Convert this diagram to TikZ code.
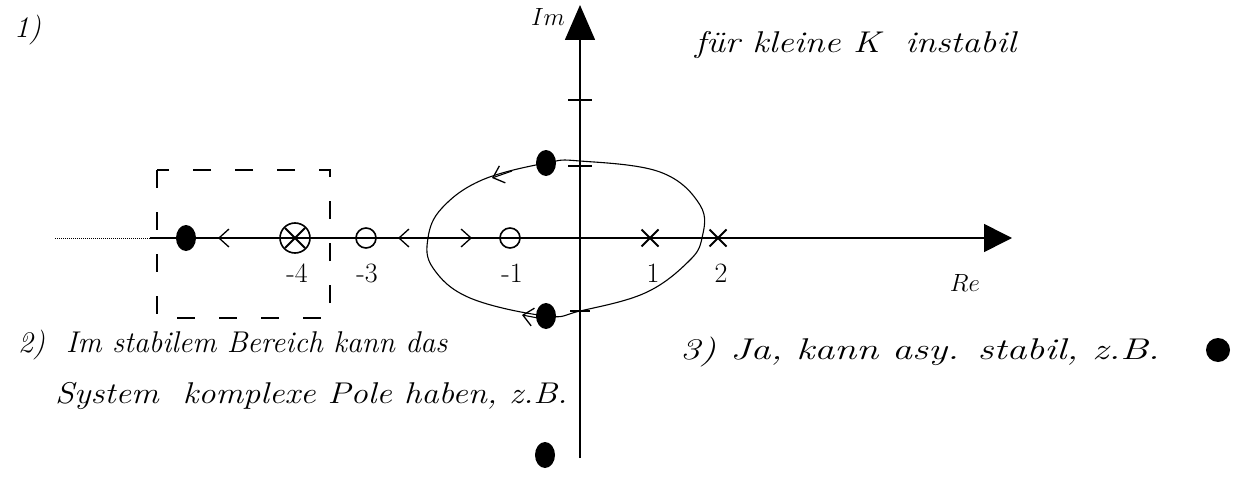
\documentclass[tikz,border=0pt]{standalone}
\usepackage{fontspec}
\usetikzlibrary{arrows.meta,shapes.misc,shapes.geometric}
\begin{document}
\begin{tikzpicture}[x=1pt,y=-1pt,
  axis/.style={line width=1.6pt},
  locus/.style={line width=1.1pt},
  rlocus/.style={line width=2.2pt},
  tip/.style={-{Straight Barb[length=10pt,width=18pt,line width=1.3pt]}},
  zero/.style={circle,draw,line width=1.6pt,minimum size=20pt,inner sep=0pt},
  pole/.style={cross out,draw,line width=2pt,minimum size=15pt,inner sep=0pt},
  dot/.style={ellipse,fill,minimum width=20pt,minimum height=26pt,inner sep=0pt},
  lab/.style={font=\fontsize{28}{32}\selectfont},
  hand/.style={font={\fontsize{30}{36}\selectfont\itshape},anchor=west,inner sep=0pt}
]
\useasboundingbox (0,0) rectangle (1235,495);
% axes
\coordinate (xl) at (55,238);
\coordinate (xs) at (150,238);
\coordinate (xr) at (1012,238);
\coordinate (yb) at (580,458);
\coordinate (yt) at (580,5);
\draw[densely dotted,line width=1pt] (xl) -- (xs);
\draw[axis,-{Triangle[length=28pt,width=28pt]}] (xs) -- (xr);
\draw[axis,-{Triangle[length=35pt,width=30pt]}] (yb) -- (yt);
\draw[line width=1.2pt] (568,100) -- (592,100);
\draw[line width=1.2pt] (568,166) -- (592,166);
\draw[line width=1.2pt] (570,311) -- (590,311);
% dashed box
\draw[line width=1.3pt,dash pattern=on 18pt off 24pt] (157,170) rectangle (330,318);
% poles and zeros
\node[zero] (z1) at (510,238) {};
\node[zero] (z3) at (366,238) {};
\node[zero,minimum size=30pt] (p4) at (295,238) {};
\node[pole,minimum size=18pt] (p4x) at (295,238) {};
\node[pole] (p1) at (650,238) {};
\node[pole] (p2) at (718,238) {};
\node[dot] (dl) at (186,238) {};
\node[dot] (dt) at (546,163) {};
\node[dot] (db) at (546,316) {};
\node[dot] (dz) at (545,455) {};
\node[dot,minimum width=24pt,minimum height=24pt] (dr) at (1218,350) {};
\coordinate (brk) at (428,238);
\coordinate (bra) at (702,238);
\coordinate (a4) at (218,238);
\coordinate (a3) at (398,238);
\coordinate (a1) at (472,238);
% real-axis locus
\draw[rlocus] (p4) -- (dl);
\draw[rlocus,tip] (p4) -- (a4);
\draw[rlocus] (brk) -- (z3);
\draw[rlocus,tip] (brk) -- (a3);
\draw[rlocus] (brk) -- (z1);
\draw[rlocus,tip] (brk) -- (a1);
\draw[rlocus] (p1) -- (bra);
% complex loop
\draw[locus] plot[smooth cycle,tension=0.65] coordinates {(bra) (700,205) (660,172) (580,161) (546,163) (482,180) (442,208) (428,238) (433,268) (470,298) (546,316) (580,311) (645,293) (688,262)};
\coordinate (t1s) at (512,171);
\coordinate (t1e) at (492,178);
\coordinate (t2s) at (538,318);
\coordinate (t2e) at (522,315);
\draw[locus,tip] (t1s) -- (t1e);
\draw[locus,tip] (t2s) -- (t2e);
% axis labels
\node[lab] (l4) at (297,273) {-4};
\node[lab] (l3) at (367,273) {-3};
\node[lab] (l1) at (512,273) {-1};
\node[lab] (r1) at (653,273) {1};
\node[lab] (r2) at (721,273) {2};
\node[lab] (re) at (965,283) {$Re$};
\node[lab] (im) at (548,17) {$Im$};
% handwritten texts
\node[hand] (t0) at (14,30) {1)};
\node[hand] (ta) at (695,45) {\scalebox{1.2}[1]{für kleine K\ \ instabil}};
\node[hand] (tb) at (18,345) {\scalebox{1}[1]{2)\ \ Im stabilem Bereich kann das}};
\node[hand] (tc) at (55,396) {\scalebox{1.15}[1]{System\ \ komplexe Pole haben, z.B.}};
\node[hand] (td) at (680,352) {\scalebox{1.33}[1]{3) Ja, kann asy. stabil, z.B.}};
\end{tikzpicture}
\end{document}
